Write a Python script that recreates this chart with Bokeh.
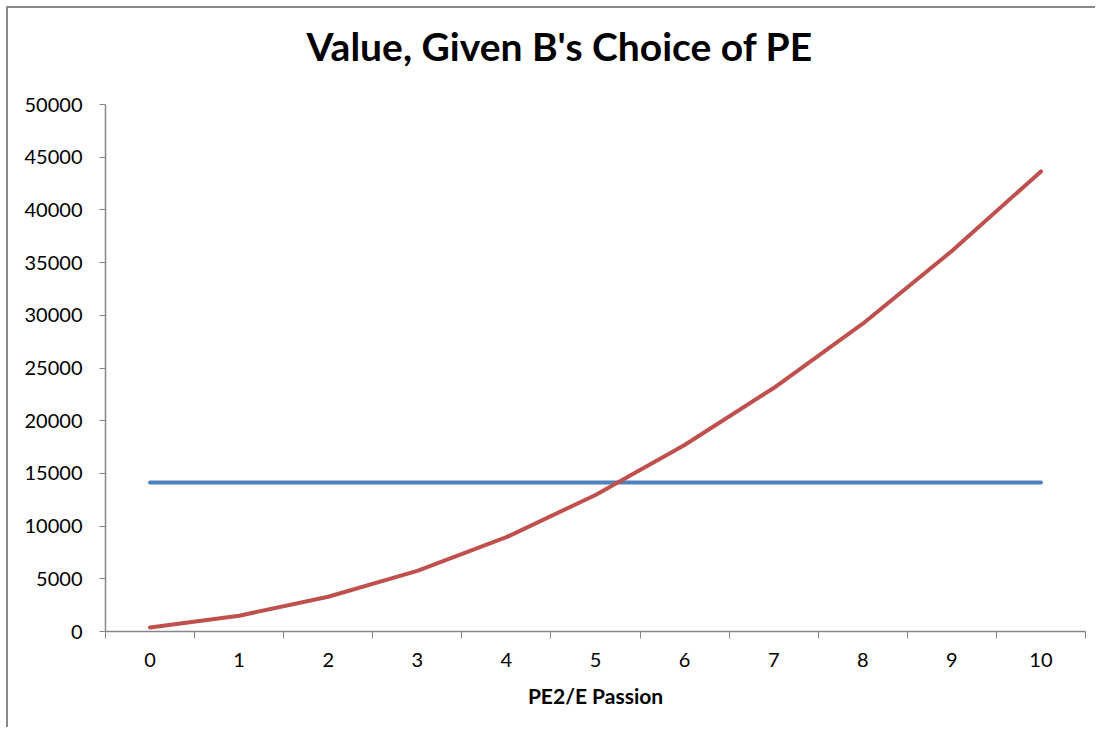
from bokeh.plotting import figure
from bokeh.models import FixedTicker, Range1d, ColumnDataSource, Title
from bokeh.core.properties import value
from bokeh.embed import file_html
from bokeh.resources import INLINE

# ---- data ----
categories = [0, 1, 2, 3, 4, 5, 6, 7, 8, 9, 10]
tick_labels = ["0", "1", "2", "3", "4", "5", "6", "7", "8", "9", "10"]
value_curve = [380, 1500, 3300, 5750, 8950, 12950, 17700, 23100, 29200, 36100, 43650]
value_flat = [14130, 14130, 14130, 14130, 14130, 14130, 14130, 14130, 14130, 14130, 14130]
y_ticks = [0, 5000, 10000, 15000, 20000, 25000, 30000, 35000, 40000, 45000, 50000]

title_text = "Value, Given B's Choice of PE"
x_title = "PE2/E Passion"

FONT = "Lato"
AXIS_GRAY = "#868686"

src = ColumnDataSource(dict(x=categories, curve=value_curve, flat=value_flat))

p = figure(
    width=1087, height=719,
    frame_width=980, frame_height=527,
    output_backend="svg", toolbar_location=None,
    x_range=Range1d(categories[0] - 0.5, categories[-1] + 0.5),
    y_range=Range1d(y_ticks[0], y_ticks[-1]),
    min_border_left=97, min_border_right=10,
    min_border_top=96, min_border_bottom=96,
    title=None,
)
p.styles = {
    "margin-left": "6px", "margin-top": "6px",
    "border-top": "2px solid #8a8a8a", "border-left": "2px solid #8a8a8a",
}

# empty spacer between the frame and the chart title
spacer = Title(text=" ", text_font=FONT, text_font_size="1px", standoff=32)
p.add_layout(spacer, "above")
main_title = Title(
    text=title_text, align="left", offset=201, standoff=2,
    text_font=FONT, text_font_style="bold", text_font_size="39px",
    text_color="#000000",
)
p.add_layout(main_title, "above")

p.outline_line_color = None
p.xgrid.visible = False
p.ygrid.visible = False
p.background_fill_color = "white"
p.border_fill_color = "white"

p.line("x", "flat", source=src, line_color="#4F81BD", line_width=4, line_cap="round")
p.line("x", "curve", source=src, line_color="#C0504D", line_width=4, line_cap="round")

# x axis: labels at category centers, tick marks at category boundaries
boundaries = [c - 0.5 for c in categories] + [categories[-1] + 0.5]
xa = p.xaxis[0]
xa.ticker = FixedTicker(ticks=categories, minor_ticks=boundaries)
xa.major_label_overrides = {c: l for c, l in zip(categories, tick_labels)}
xa.major_tick_out = 0
xa.major_tick_in = 0
xa.minor_tick_out = 7
xa.minor_tick_in = 0
xa.minor_tick_line_color = AXIS_GRAY
xa.axis_line_color = AXIS_GRAY
xa.axis_line_width = 1.5
xa.major_label_text_font = FONT
xa.major_label_text_font_size = "20px"
xa.major_label_text_color = "#000000"
xa.major_label_standoff = 14
xa.axis_label = x_title
xa.axis_label_text_font = FONT
xa.axis_label_text_font_style = "bold"
xa.axis_label_text_font_size = "21px"
xa.axis_label_text_color = "#000000"
xa.axis_label_standoff = 13

ya = p.yaxis[0]
ya.ticker = FixedTicker(ticks=y_ticks, minor_ticks=[])
ya.major_label_overrides = {t: str(t) for t in y_ticks}
ya.major_tick_out = 6
ya.major_tick_in = 0
ya.major_tick_line_color = AXIS_GRAY
ya.minor_tick_line_color = None
ya.axis_line_color = AXIS_GRAY
ya.axis_line_width = 1.5
ya.major_label_text_font = FONT
ya.major_label_text_font_size = "20px"
ya.major_label_text_color = "#000000"
ya.major_label_standoff = 17

open("out.html", "w").write(file_html(p, INLINE))
